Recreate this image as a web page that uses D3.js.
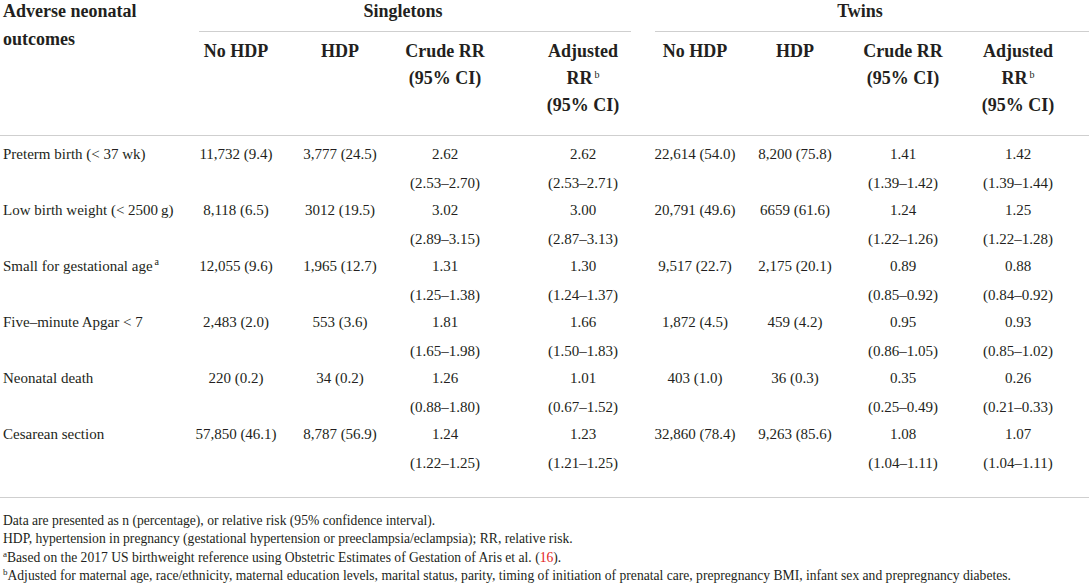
<!DOCTYPE html>
<html>
<head>
<meta charset="utf-8">
<script src="https://cdn.jsdelivr.net/npm/d3@7"></script>
<style>
  html, body { margin: 0; padding: 0; background: #fff; }
  svg { display: block; }
  text { font-family: "Liberation Serif", "DejaVu Serif", serif; fill: #231f20; }
</style>
</head>
<body>
<svg id="chart" width="1089" height="585"></svg>
<script>
// ---------- data ----------
const outcomes = [
  "Preterm birth (< 37 wk)",
  "Low birth weight (< 2500\u2009g)",
  "Small for gestational age",
  "Five\u2013minute Apgar < 7",
  "Neonatal death",
  "Cesarean section"
];
const outcomeNotes = ["", "", "a", "", "", ""];

const singletonNoHDP = ["11,732 (9.4)", "8,118 (6.5)", "12,055 (9.6)", "2,483 (2.0)", "220 (0.2)", "57,850 (46.1)"];
const singletonHDP   = ["3,777 (24.5)", "3012 (19.5)", "1,965 (12.7)", "553 (3.6)", "34 (0.2)", "8,787 (56.9)"];
const singletonCrude   = [2.62, 3.02, 1.31, 1.81, 1.26, 1.24];
const singletonCrudeCI = ["2.53\u20132.70", "2.89\u20133.15", "1.25\u20131.38", "1.65\u20131.98", "0.88\u20131.80", "1.22\u20131.25"];
const singletonAdj     = [2.62, 3.00, 1.30, 1.66, 1.01, 1.23];
const singletonAdjCI   = ["2.53\u20132.71", "2.87\u20133.13", "1.24\u20131.37", "1.50\u20131.83", "0.67\u20131.52", "1.21\u20131.25"];

const twinNoHDP = ["22,614 (54.0)", "20,791 (49.6)", "9,517 (22.7)", "1,872 (4.5)", "403 (1.0)", "32,860 (78.4)"];
const twinHDP   = ["8,200 (75.8)", "6659 (61.6)", "2,175 (20.1)", "459 (4.2)", "36 (0.3)", "9,263 (85.6)"];
const twinCrude   = [1.41, 1.24, 0.89, 0.95, 0.35, 1.08];
const twinCrudeCI = ["1.39\u20131.42", "1.22\u20131.26", "0.85\u20130.92", "0.86\u20131.05", "0.25\u20130.49", "1.04\u20131.11"];
const twinAdj     = [1.42, 1.25, 0.88, 0.93, 0.26, 1.07];
const twinAdjCI   = ["1.39\u20131.44", "1.22\u20131.28", "0.84\u20130.92", "0.85\u20131.02", "0.21\u20130.33", "1.04\u20131.11"];

const groupLabels = ["Singletons", "Twins"];
const stubHeader = ["Adverse neonatal", "outcomes"];
const columnHeaders = [
  {lines: ["No HDP"]},
  {lines: ["HDP"]},
  {lines: ["Crude RR", "(95% CI)"]},
  {lines: ["Adjusted", "RR", "(95% CI)"], note: "b"},
  {lines: ["No HDP"]},
  {lines: ["HDP"]},
  {lines: ["Crude RR", "(95% CI)"]},
  {lines: ["Adjusted", "RR", "(95% CI)"], note: "b"}
];
const footnotes = [
  {sup: "", parts: [{t: "Data are presented as n (percentage), or relative risk (95% confidence interval)."}]},
  {sup: "", parts: [{t: "HDP, hypertension in pregnancy (gestational hypertension or preeclampsia/eclampsia); RR, relative risk."}]},
  {sup: "a", parts: [{t: "Based on the 2017 US birthweight reference using Obstetric Estimates of Gestation of Aris et al. ("}, {t: "16", ref: true}, {t: ")."}]},
  {sup: "b", parts: [{t: "Adjusted for maternal age, race/ethnicity, maternal education levels, marital status, parity, timing of initiation of prenatal care, prepregnancy BMI, infant sex and prepregnancy diabetes."}]}
];

// ---------- layout ----------
const W = 1089, H = 585;
const svg = d3.select("#chart");
const fmt2 = d3.format(".2f");

const colKeys = d3.range(8);
const x = d3.scaleOrdinal().domain(colKeys).range([236, 340, 445, 583, 695, 795, 903, 1018]);
const groupSpan = [[199, 631], [655, 1089]];
const y = d3.scaleLinear().domain([0, outcomes.length - 1]).range([159, 439]);
const ciOffset = 29;
const ruleColor = "#cfcfcf";

// group headers
svg.selectAll("text.group").data(groupLabels).join("text")
  .attr("class", "group")
  .attr("x", (d, i) => (groupSpan[i][0] + groupSpan[i][1]) / 2 - 12)
  .attr("y", 17)
  .attr("text-anchor", "middle")
  .attr("font-weight", "bold")
  .attr("font-size", 18)
  .text(d => d);

svg.selectAll("line.span").data(groupSpan).join("line")
  .attr("class", "span")
  .attr("x1", d => d[0]).attr("x2", d => d[1])
  .attr("y1", 31.5).attr("y2", 31.5)
  .attr("stroke", ruleColor).attr("stroke-width", 1.2);

// stub header
svg.selectAll("text.stub").data(stubHeader).join("text")
  .attr("class", "stub")
  .attr("x", 3)
  .attr("y", (d, i) => 17 + i * 28)
  .attr("font-weight", "bold")
  .attr("font-size", 18)
  .text(d => d);

// column headers
const hdr = svg.selectAll("g.colhdr").data(columnHeaders).join("g")
  .attr("class", "colhdr")
  .attr("transform", (d, i) => `translate(${x(i)},0)`);
hdr.each(function(d) {
  const g = d3.select(this);
  d.lines.forEach((ln, j) => {
    const t = g.append("text")
      .attr("x", 0)
      .attr("y", 57 + j * 27)
      .attr("text-anchor", "middle")
      .attr("font-weight", "bold")
      .attr("font-size", 18);
    t.append("tspan").text(ln);
    if (d.note && ln === "RR") {
      t.append("tspan").attr("font-size", 10).attr("font-weight", "normal").attr("dy", -6).text("\u2009" + d.note);
    }
  });
});

// rules
const rules = [135, 497];
svg.selectAll("line.rule").data(rules).join("line")
  .attr("class", "rule")
  .attr("x1", 0).attr("x2", W)
  .attr("y1", d => d + 0.5).attr("y2", d => d + 0.5)
  .attr("stroke", ruleColor).attr("stroke-width", 1.2);

// row labels
const lbl = svg.selectAll("text.rowlabel").data(outcomes).join("text")
  .attr("class", "rowlabel")
  .attr("x", 3)
  .attr("y", (d, i) => y(i))
  .attr("font-size", 15);
lbl.append("tspan").text(d => d);
lbl.append("tspan").attr("font-size", 10).attr("dy", -6)
  .text((d, i) => outcomeNotes[i] ? "\u2009" + outcomeNotes[i] : "");

// value cells
const countCols = [[0, singletonNoHDP], [1, singletonHDP], [4, twinNoHDP], [5, twinHDP]];
countCols.forEach(([c, arr]) => {
  svg.selectAll(null).data(arr).join("text")
    .attr("x", x(c)).attr("y", (d, i) => y(i))
    .attr("text-anchor", "middle").attr("font-size", 15)
    .text(d => d);
});
const rrCols = [[2, singletonCrude, singletonCrudeCI], [3, singletonAdj, singletonAdjCI],
                [6, twinCrude, twinCrudeCI], [7, twinAdj, twinAdjCI]];
rrCols.forEach(([c, vals, cis]) => {
  svg.selectAll(null).data(vals).join("text")
    .attr("x", x(c)).attr("y", (d, i) => y(i))
    .attr("text-anchor", "middle").attr("font-size", 15)
    .text(d => fmt2(d));
  svg.selectAll(null).data(cis).join("text")
    .attr("x", x(c)).attr("y", (d, i) => y(i) + ciOffset)
    .attr("text-anchor", "middle").attr("font-size", 15)
    .text(d => "(" + d + ")");
});

// footnotes
const fy = d3.scaleLinear().domain([0, footnotes.length - 1]).range([525, 580]);
footnotes.forEach((f, i) => {
  const t = svg.append("text").attr("x", 3).attr("y", fy(i)).attr("font-size", 13.6);
  if (f.sup) t.append("tspan").attr("font-size", 9).attr("dy", -5).text(f.sup);
  f.parts.forEach((p, k) => {
    const s = t.append("tspan").text(p.t);
    if (f.sup && k === 0) s.attr("dy", 5);
    if (p.ref) s.style("fill", "#e2231a");
  });
});
</script>
</body>
</html>
